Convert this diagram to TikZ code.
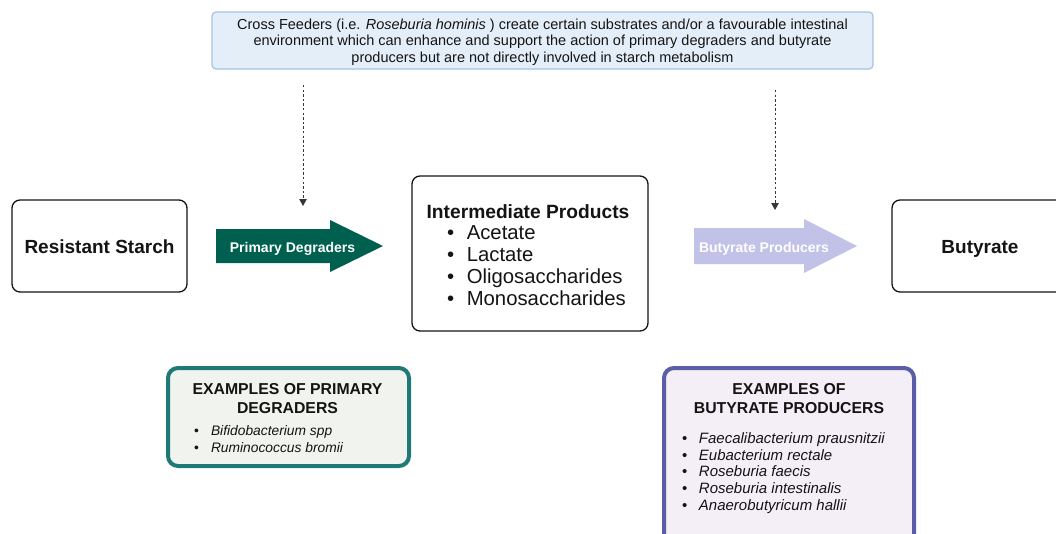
\documentclass[tikz,border=0pt]{standalone}
\usepackage{fontspec}
\setmainfont{Liberation Sans}
\usetikzlibrary{arrows.meta}
\definecolor{topfill}{HTML}{E4EEF9}
\definecolor{topdraw}{HTML}{A6C2E4}
\definecolor{pdgreen}{HTML}{00604F}
\definecolor{bplav}{HTML}{C2C1E8}
\definecolor{tealdraw}{HTML}{1F7A77}
\definecolor{tealfill}{HTML}{F1F3EE}
\definecolor{purpdraw}{HTML}{5A5EA8}
\definecolor{purpfill}{HTML}{F4EFF6}
\definecolor{ink}{HTML}{141414}
\tikzset{
  box/.style={draw=ink, line width=1.3pt, rounded corners=8pt, fill=white, inner sep=0pt},
  topbox/.style={draw=topdraw, line width=1.2pt, fill=topfill, rounded corners=4pt, inner sep=0pt},
  exbox/.style={line width=4pt, rounded corners=10pt, inner sep=0pt},
  boxtitle/.style={font=\fontsize{19}{22}\selectfont\bfseries, text=ink, text height=15.5pt, text depth=0pt},
  arrowtext/.style={anchor=base, font=\fontsize{14}{16}\selectfont\bfseries, text=white, inner sep=0pt},
  dotarrow/.style={draw=ink!85, line width=1pt, dash pattern=on 2.4pt off 2.2pt, -{Triangle[width=7.5pt,length=7pt]}},
  line/.style={anchor=base west, inner sep=0pt, text=ink},
  title/.style={anchor=base, align=center, inner sep=0pt, text=ink, font=\fontsize{15.8}{19}\selectfont\bfseries},
}
\begin{document}
\begin{tikzpicture}[x=1pt,y=-1pt]
\useasboundingbox (0,0) rectangle (1056,533);

% top box
\node[topbox, minimum width=661, minimum height=57] (feed) at (542.5,40.5) {};
\node[align=center, inner sep=0pt, text=ink, font=\fontsize{14.5}{16.7}\selectfont] (feedtext) at (542.5,42)
  {Cross Feeders (i.e. \textit{Roseburia hominis} ) create certain substrates and/or a favourable intestinal\\
   environment which can enhance and support the action of primary degraders and butyrate\\
   producers but are not directly involved in starch metabolism};

% main boxes
\node[box, minimum width=175, minimum height=92, boxtitle] (rs) at (99.5,246) {Resistant Starch};
\node[box, minimum width=236, minimum height=155] (inter) at (530,253.5) {};
\node[box, minimum width=180, minimum height=92, boxtitle] (but) at (982,246) {\hspace*{-4pt}Butyrate};

\node[anchor=base, inner sep=0pt, font=\fontsize{19.2}{22}\selectfont\bfseries, text=ink] (intertitle) at (528,218) {Intermediate Products};
\foreach \t [count=\i] in {Acetate,Lactate,Oligosaccharides,Monosaccharides}
  \node[line, font=\fontsize{20.3}{24}\selectfont] (inter\i) at (447,{239.3+22*(\i-1)}) {\textbullet\hspace{12.5pt}\t};

% block arrows
\fill[pdgreen] (216,229) -- (330,229) -- (330,220) -- (383,246) -- (330,272) -- (330,263) -- (216,263) -- cycle;
\node[arrowtext] (pd) at (292.5,252) {Primary Degraders};
\fill[bplav] (694,228) -- (804,228) -- (804,219) -- (857,246) -- (804,273) -- (804,264) -- (694,264) -- cycle;
\node[arrowtext] (bp) at (764,252) {Butyrate Producers};

% dotted arrows from cross feeders
\coordinate (d1s) at (303,85);
\coordinate (d1e) at (303,206);
\coordinate (d2s) at (775,90);
\coordinate (d2e) at (775,210);
\draw[dotarrow] (d1s) -- (d1e);
\draw[dotarrow] (d2s) -- (d2e);

% example boxes
\node[exbox, draw=tealdraw, fill=tealfill, minimum width=241, minimum height=98] (exp) at (288.5,417) {};
\node[title] (exptitle) at (287.5,413.7) {EXAMPLES OF PRIMARY\\DEGRADERS};
\foreach \t [count=\i] in {Bifidobacterium spp,Ruminococcus bromii}
  \node[line, font=\fontsize{13.8}{16}\selectfont] (expl\i) at (194,{435+17*(\i-1)}) {\textbullet\hspace{12pt}\textit{\t}};

\node[exbox, draw=purpdraw, fill=purpfill, minimum width=250, minimum height=180] (exb) at (789,458) {};
\node[title] (exbtitle) at (789,413.7) {EXAMPLES OF\\BUTYRATE PRODUCERS};
\foreach \t [count=\i] in {Faecalibacterium prausnitzii,Eubacterium rectale,Roseburia faecis,Roseburia intestinalis,Anaerobutyricum hallii}
  \node[line, font=\fontsize{15}{17}\selectfont] (exbl\i) at (682,{443.4+16.75*(\i-1)}) {\textbullet\hspace{11.5pt}\textit{\t}};
\end{tikzpicture}
\end{document}
